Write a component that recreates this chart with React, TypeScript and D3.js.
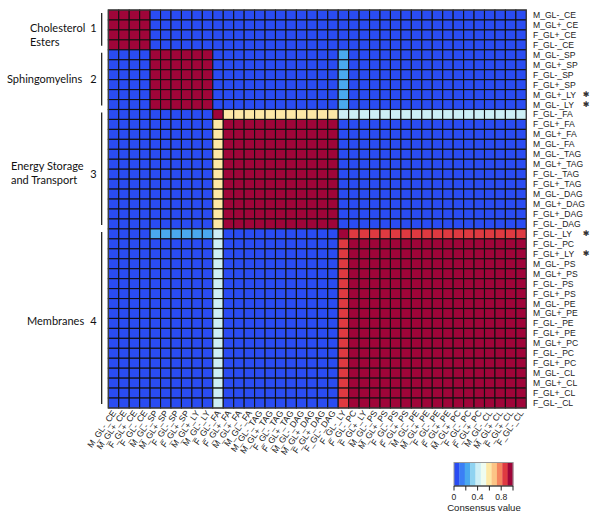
import React from "react";
import * as d3 from "d3";

const labels = [
  "M_GL-_CE", "M_GL+_CE", "F_GL+_CE", "F_GL-_CE",
  "M_GL-_SP", "M_GL+_SP", "F_GL-_SP", "F_GL+_SP", "M_GL+_LY", "M_GL-_LY",
  "F_GL-_FA",
  "F_GL+_FA", "M_GL+_FA", "M_GL-_FA", "M_GL-_TAG", "M_GL+_TAG", "F_GL-_TAG", "F_GL+_TAG",
  "M_GL-_DAG", "M_GL+_DAG", "F_GL+_DAG", "F_GL-_DAG",
  "F_GL-_LY",
  "F_GL-_PC", "F_GL+_LY", "M_GL-_PS", "M_GL+_PS", "F_GL-_PS", "F_GL+_PS",
  "M_GL-_PE", "M_GL+_PE", "F_GL-_PE", "F_GL+_PE", "M_GL+_PC", "F_GL-_PC", "F_GL+_PC",
  "M_GL-_CL", "M_GL+_CL", "F_GL+_CL", "F_GL-_CL",
];

const starredRows = [8, 9, 22, 24];

// consensus value codes
const codeValues: Record<string, number> = { B: 0, L: 0.2, C: 0.4, Y: 0.6, R: 0.85, D: 1 };

// segments: [4 | 6 | 1 | 11 | 1 | 17]
const matrixRows = [
  "DDDD|BBBBBB|B|BBBBBBBBBBB|B|BBBBBBBBBBBBBBBBB",
  "DDDD|BBBBBB|B|BBBBBBBBBBB|B|BBBBBBBBBBBBBBBBB",
  "DDDD|BBBBBB|B|BBBBBBBBBBB|B|BBBBBBBBBBBBBBBBB",
  "DDDD|BBBBBB|B|BBBBBBBBBBB|B|BBBBBBBBBBBBBBBBB",
  "BBBB|DDDDDD|B|BBBBBBBBBBB|L|BBBBBBBBBBBBBBBBB",
  "BBBB|DDDDDD|B|BBBBBBBBBBB|L|BBBBBBBBBBBBBBBBB",
  "BBBB|DDDDDD|B|BBBBBBBBBBB|L|BBBBBBBBBBBBBBBBB",
  "BBBB|DDDDDD|B|BBBBBBBBBBB|L|BBBBBBBBBBBBBBBBB",
  "BBBB|DDDDDD|B|BBBBBBBBBBB|L|BBBBBBBBBBBBBBBBB",
  "BBBB|DDDDDD|B|BBBBBBBBBBB|L|BBBBBBBBBBBBBBBBB",
  "BBBB|BBBBBB|D|YYYYYYYYYYY|C|CCCCCCCCCCCCCCCCC",
  "BBBB|BBBBBB|Y|DDDDDDDDDDD|B|BBBBBBBBBBBBBBBBB",
  "BBBB|BBBBBB|Y|DDDDDDDDDDD|B|BBBBBBBBBBBBBBBBB",
  "BBBB|BBBBBB|Y|DDDDDDDDDDD|B|BBBBBBBBBBBBBBBBB",
  "BBBB|BBBBBB|Y|DDDDDDDDDDD|B|BBBBBBBBBBBBBBBBB",
  "BBBB|BBBBBB|Y|DDDDDDDDDDD|B|BBBBBBBBBBBBBBBBB",
  "BBBB|BBBBBB|Y|DDDDDDDDDDD|B|BBBBBBBBBBBBBBBBB",
  "BBBB|BBBBBB|Y|DDDDDDDDDDD|B|BBBBBBBBBBBBBBBBB",
  "BBBB|BBBBBB|Y|DDDDDDDDDDD|B|BBBBBBBBBBBBBBBBB",
  "BBBB|BBBBBB|Y|DDDDDDDDDDD|B|BBBBBBBBBBBBBBBBB",
  "BBBB|BBBBBB|Y|DDDDDDDDDDD|B|BBBBBBBBBBBBBBBBB",
  "BBBB|BBBBBB|Y|DDDDDDDDDDD|B|BBBBBBBBBBBBBBBBB",
  "BBBB|LLLLLL|C|BBBBBBBBBBB|D|RRRRRRRRRRRRRRRRR",
  "BBBB|BBBBBB|C|BBBBBBBBBBB|R|DDDDDDDDDDDDDDDDD",
  "BBBB|BBBBBB|C|BBBBBBBBBBB|R|DDDDDDDDDDDDDDDDD",
  "BBBB|BBBBBB|C|BBBBBBBBBBB|R|DDDDDDDDDDDDDDDDD",
  "BBBB|BBBBBB|C|BBBBBBBBBBB|R|DDDDDDDDDDDDDDDDD",
  "BBBB|BBBBBB|C|BBBBBBBBBBB|R|DDDDDDDDDDDDDDDDD",
  "BBBB|BBBBBB|C|BBBBBBBBBBB|R|DDDDDDDDDDDDDDDDD",
  "BBBB|BBBBBB|C|BBBBBBBBBBB|R|DDDDDDDDDDDDDDDDD",
  "BBBB|BBBBBB|C|BBBBBBBBBBB|R|DDDDDDDDDDDDDDDDD",
  "BBBB|BBBBBB|C|BBBBBBBBBBB|R|DDDDDDDDDDDDDDDDD",
  "BBBB|BBBBBB|C|BBBBBBBBBBB|R|DDDDDDDDDDDDDDDDD",
  "BBBB|BBBBBB|C|BBBBBBBBBBB|R|DDDDDDDDDDDDDDDDD",
  "BBBB|BBBBBB|C|BBBBBBBBBBB|R|DDDDDDDDDDDDDDDDD",
  "BBBB|BBBBBB|C|BBBBBBBBBBB|R|DDDDDDDDDDDDDDDDD",
  "BBBB|BBBBBB|C|BBBBBBBBBBB|R|DDDDDDDDDDDDDDDDD",
  "BBBB|BBBBBB|C|BBBBBBBBBBB|R|DDDDDDDDDDDDDDDDD",
  "BBBB|BBBBBB|C|BBBBBBBBBBB|R|DDDDDDDDDDDDDDDDD",
  "BBBB|BBBBBB|C|BBBBBBBBBBB|R|DDDDDDDDDDDDDDDDD",
];

const palette = [
  "#2a4cf2", "#3b7ff5", "#4aa9ef", "#8fd3f1", "#cdeff6", "#eefcf1",
  "#fde8a6", "#fcc486", "#f4845e", "#de3a41", "#9f0539",
];

const clusterNames = [["Cholesterol", "Esters"], ["Sphingomyelins"], ["Energy Storage", "and Transport"], ["Membranes"]];
const clusterIds = ["1", "2", "3", "4"];
const clusterRowRanges = [[0, 4], [4, 10], [10, 22], [22, 40]];

const legendTicks = [0, 0.2, 0.4, 0.6, 0.8, 1.0];
const legendTickLabels = [0, 0.4, 0.8];

export default function App() {
  const W = 600, H = 518;
  const n = labels.length;
  const idx = d3.range(n);
  const x = d3.scaleBand<number>().domain(idx).range([108.3, 526.3]);
  const y = d3.scaleBand<number>().domain(idx).range([10, 408]);
  const color = d3.scaleQuantize<string>().domain([0, 1]).range(palette);
  const values = matrixRows.map((r) => r.replace(/\|/g, "").split("").map((c) => codeValues[c]));

  const lx = d3.scaleLinear().domain([0, 1]).range([454, 513]);
  const legendBins = d3.range(palette.length);
  const binW = (lx(1) - lx(0)) / palette.length;

  const labelFont = "Lato, 'Open Sans', sans-serif";
  const tickFont = "'Liberation Sans', Arial, sans-serif";

  const textLines: { x: number; y: number }[][] = [
    [{ x: 30, y: 32 }, { x: 30, y: 46 }],
    [{ x: 7, y: 83 }],
    [{ x: 11, y: 170 }, { x: 11, y: 184 }],
    [{ x: 27, y: 325 }],
  ];
  const idY = [32, 83, 178, 325];

  return (
    <svg width={W} height={H} style={{ position: "absolute", left: 0, top: 0, background: "#fff" }}>
      <g>
        {values.map((row, i) =>
          row.map((v, j) => (
            <rect
              key={`${i}-${j}`}
              x={x(j)}
              y={y(i)}
              width={x.bandwidth()}
              height={y.bandwidth()}
              fill={color(v)}
              stroke="#111"
              strokeWidth={1.1}
            />
          ))
        )}
        <rect x={108.3} y={10} width={418} height={398} fill="none" stroke="#444" strokeWidth={1} />
      </g>

      {/* row labels */}
      <g fontFamily={tickFont} fontSize={8.6} fill="#222">
        {labels.map((l, i) => (
          <text key={i} x={533} y={(y(i) as number) + y.bandwidth() / 2} dominantBaseline="central">
            {l}
          </text>
        ))}
        {starredRows.map((i) => (
          <text
            key={"s" + i}
            x={586}
            y={(y(i) as number) + y.bandwidth() / 2}
            fontSize={8}
            fontFamily="'DejaVu Sans', sans-serif"
            textAnchor="middle"
            dominantBaseline="central"
            fill="#333"
          >
            ✱
          </text>
        ))}
      </g>

      {/* column labels */}
      <g fontFamily={tickFont} fontSize={8.6} fill="#222">
        {labels.map((l, j) => {
          const cx = (x(j) as number) + x.bandwidth() / 2 + 3;
          const cy = 413;
          return (
            <text key={j} x={cx} y={cy} textAnchor="end" transform={`rotate(-55 ${cx} ${cy})`}>
              {l}
            </text>
          );
        })}
      </g>

      {/* cluster brackets and names */}
      <g fontFamily={labelFont} fontSize={11} fill="#111">
        {clusterRowRanges.map(([a, b], k) => (
          <line
            key={"b" + k}
            x1={101.7}
            x2={101.7}
            y1={(y(a) as number) + 3}
            y2={(b < n ? (y(b) as number) : 408) - 4}
            stroke="#111"
            strokeWidth={1.2}
          />
        ))}
        {clusterNames.map((lines, k) =>
          lines.map((t, li) => (
            <text key={`n${k}-${li}`} x={textLines[k][li].x} y={textLines[k][li].y}>
              {t}
            </text>
          ))
        )}
        {clusterIds.map((t, k) => (
          <text key={"i" + k} x={93.5} y={idY[k]} textAnchor="middle">
            {t}
          </text>
        ))}
      </g>

      {/* colour legend */}
      <g>
        {legendBins.map((b) => (
          <rect key={b} x={lx(0) + b * binW} y={462.5} width={binW + 0.3} height={23.5} fill={palette[b]} />
        ))}
        <rect x={lx(0)} y={462.5} width={lx(1) - lx(0)} height={23.5} fill="none" stroke="#999" strokeWidth={1} />
        <line x1={lx(0)} x2={lx(1)} y1={486} y2={486} stroke="#222" strokeWidth={1} />
        {legendTicks.map((t) => (
          <line key={t} x1={lx(t)} x2={lx(t)} y1={486} y2={490.5} stroke="#222" strokeWidth={1} />
        ))}
        <g fontFamily={tickFont} fontSize={8.6} fill="#222" textAnchor="middle">
          {legendTickLabels.map((t) => (
            <text key={t} x={lx(t)} y={500}>
              {t}
            </text>
          ))}
          <text x={484} y={510.5} fontSize={9.6}>
            Consensus value
          </text>
        </g>
      </g>
    </svg>
  );
}
